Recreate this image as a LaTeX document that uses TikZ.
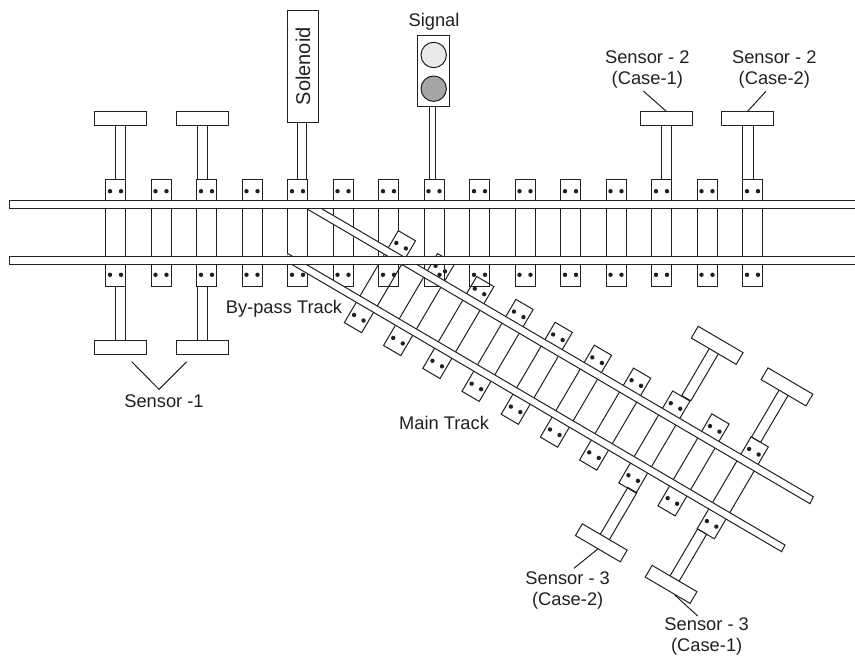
\documentclass[tikz,border=0pt]{standalone}
\usepackage{fontspec}
\setmainfont{Liberation Sans}
\usepackage{tikz}
\usetikzlibrary{positioning,calc}
\definecolor{ink}{HTML}{231F20}
\tikzset{
  railline/.style={draw=ink, line width=1pt},
  railbody/.style={railline, fill=white},
  sensorhead/.style={railbody, minimum width=52pt, minimum height=13.6pt, inner sep=0pt},
  lampbox/.style={railbody, inner sep=0pt},
  lamp/.style={circle, draw=ink, line width=1pt, minimum size=25.4pt, inner sep=0pt},
  tag/.style={font=\fontsize{18.3}{21}\selectfont, text=ink, align=center, inner sep=0pt},
}
\newcommand{\railtie}{
  \draw[railline] (-10,-53.3) rectangle (10,53.3);
  \foreach \s in {-41.8,41.8} {
    \fill[ink] (-5.5,\s) circle (2.2pt);
    \fill[ink] (5.5,\s) circle (2.2pt);
  }
}
\begin{document}
\begin{tikzpicture}[x=1pt, y=-1pt]
  \useasboundingbox (0,0) rectangle (855,656);
  \foreach \x in {115.5,161,206.5,252,297.5,343,388.5,434,479.5,525,570.5,616,661.5,707,752.5} {
    \begin{scope}[shift={(\x,233)}]
      \railtie
    \end{scope}
  }
  \begin{scope}[shift={(380,281.7)}, rotate=-30.4]
    \fill[white] (-10,-53.3) rectangle (10,-32);
  \end{scope}
  \foreach \k in {0,...,9} {
    \begin{scope}[shift={(732.75-39.2*\k,487.8-22.9*\k)}, rotate=-30.4]
      \railtie
    \end{scope}
  }
  \foreach \n/\x/\y/\r/\a/\b in {
      sa/115.5/233/0/-0.5/1, sb/206.5/233/0/-9.5/1,
      tl/115.5/233/0/-0.5/-1, tr/206.5/233/0/-9.5/-1,
      ua/661.5/233/0/-0.5/-1, ub/752.5/233/0/-10/-1,
      va/654.35/441.2/-30.4/0.5/-1, vb/732.75/487.8/-30.4/-9.5/-1,
      wb/654.35/441.2/-30.4/0.5/1, wa/732.75/487.8/-30.4/-9.5/1} {
    \begin{scope}[shift={(\x,\y)}, rotate=\r]
      \draw[railline] (\a,\b*53.3) rectangle (\a+10.5,\b*108);
      \node[sensorhead, transform shape] (\n) at (\a+5.2,\b*114.5) {};
    \end{scope}
  }
  \draw[railbody] (306.7,208.7) -- (810,503.7) -- (813.3,496.7) -- (321.7,208.7);
  \draw[railbody] (287.3,253.3) -- (785,545) -- (781.7,551.7) -- (287.3,261.8);
  \draw[railbody] (860,200) -- (9.5,200) -- (9.5,208.5) -- (860,208.5);
  \draw[railbody] (860,256) -- (9.5,256) -- (9.5,264.5) -- (860,264.5);

  \draw[railline] (297,122.3) rectangle (306.7,179.7);
  \draw[railline] (429.7,106.3) rectangle (435,179.7);
  \node[lampbox, minimum width=112pt, minimum height=30.3pt, rotate=90,
        font=\fontsize{20}{24}\selectfont, text=ink] (sol) at (302.9,66.3) {Solenoid};
  \node[lampbox, minimum width=32pt, minimum height=70.6pt] (sig) at (433.7,71) {};
  \node[lamp, fill=ink!10] (lampa) at (433.7,55) {};
  \node[lamp, fill=ink!40] (lampb) at (433.7,88.7) {};
  \node[tag] (sigtag) at (434,21.7) {Signal};

  \node[tag] (bypass) at (284,309) {By-pass Track};
  \node[tag] (maintag) at (444,423) {Main Track};
  \node[tag] (stag) at (164,401) {Sensor -1};
  \node[tag] (utaga) at (647.3,70) {Sensor - 2\\(Case-1)};
  \node[tag] (utagb) at (774.3,70) {Sensor - 2\\(Case-2)};
  \node[tag] (wtagb) at (567.7,590.5) {Sensor - 3\\(Case-2)};
  \node[tag] (wtaga) at (706.7,636.5) {Sensor - 3\\(Case-1)};

  \coordinate (sv) at (159,389.3);
  \coordinate (sl) at (131.7,361.7);
  \coordinate (sr) at (186.7,361.7);
  \coordinate (uca) at (643.3,91);
  \coordinate (ucb) at (766,91.3);
  \coordinate (wcb) at (574,568.3);
  \coordinate (wca) at (697.7,616);
  \draw[railline] (sl) -- (sv) -- (sr);
  \draw[railline] (uca) -- (ua.north);
  \draw[railline] (ucb) -- (ub.north);
  \draw[railline] (wcb) -- (wb.south);
  \draw[railline] ($(wa.south)!0.32!(wa.south east)$) -- (wca);
\end{tikzpicture}
\end{document}
